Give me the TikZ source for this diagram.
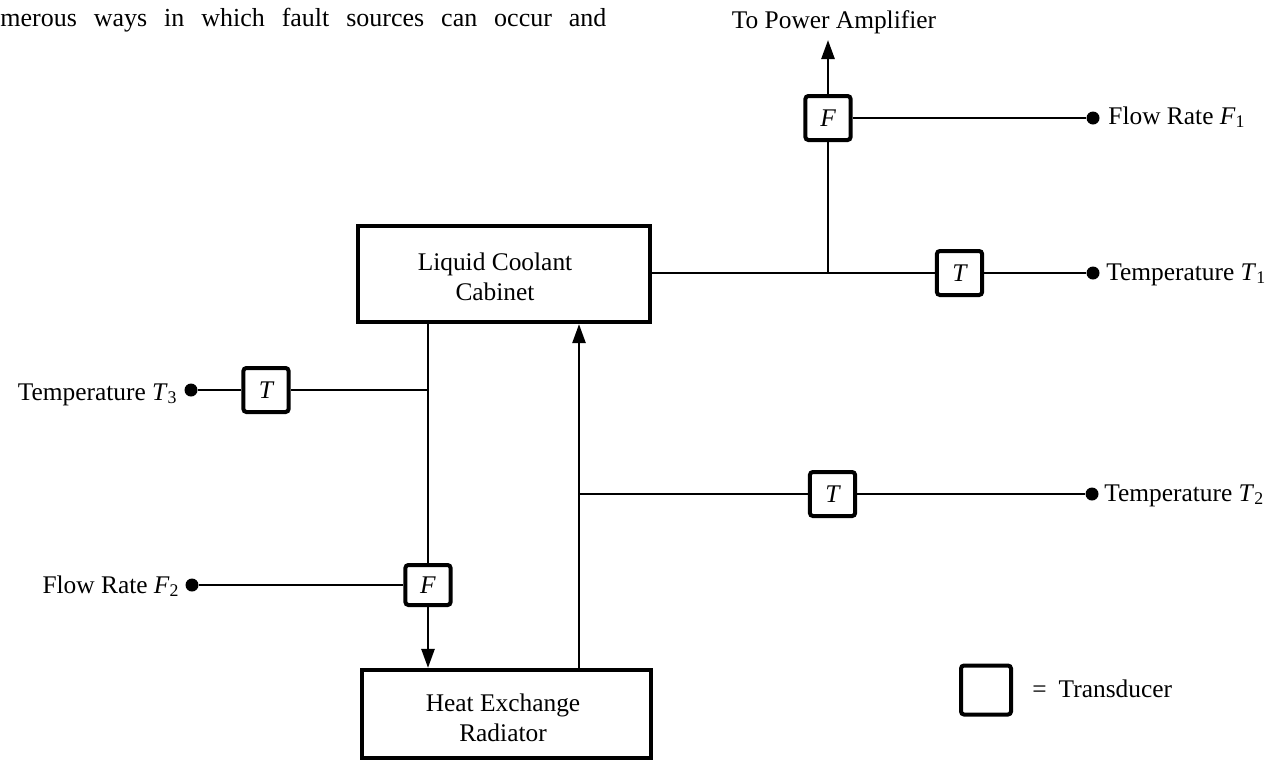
\documentclass[tikz,border=0pt]{standalone}
\usepackage{fontspec}
\setmainfont{Liberation Serif}
\usetikzlibrary{arrows.meta}
\newcommand\labfont{\fontsize{12.7}{15}\selectfont}
\newcommand\topfont{\fontsize{13}{15}\selectfont}
\begin{document}
\begin{tikzpicture}[x=0.5pt,y=-0.5pt,
  conn/.style={line width=1.3pt},
  arr/.style={line width=1.3pt,-{Triangle[length=9.5pt,width=6.5pt]}},
  bigbox/.style={draw,line width=1.9pt,inner sep=0pt},
  boxtext/.style={align=center,font=\labfont,inner sep=0pt},
  trans/.style={draw,line width=2pt,rounded corners=1.5pt,minimum width=22.6pt,minimum height=22pt,inner sep=0pt,font=\labfont\itshape},
  dot/.style={circle,fill,inner sep=0pt,minimum size=6.5pt},
  lab/.style={font=\labfont,inner sep=0pt}]
\useasboundingbox (0,0) rectangle (1278,762);
% top running text
\node[anchor=base west,inner sep=0pt,font=\topfont] (txt) at (0,26)
  {\makebox[303pt][s]{merous ways in which fault sources can occur and}};
% main blocks
\node[bigbox,minimum width=146.2pt,minimum height=48.2pt] (cab) at (504,274) {};
\node[boxtext] (cabt) at (495,277) {Liquid Coolant\\Cabinet};
\node[bigbox,minimum width=144.7pt,minimum height=44.2pt] (rad) at (506.5,714) {};
\node[boxtext] (radt) at (503,718) {Heat Exchange\\Radiator};
% transducers
\node[trans] (F1) at (828,118) {F};
\node[trans] (T1) at (959.5,273) {T};
\node[trans] (T2) at (832.5,494) {T};
\node[trans] (T3) at (266,390) {T};
\node[trans,minimum height=20pt] (F2) at (428,585) {F};
% terminal dots
\node[dot] (d1) at (1093,118) {};
\node[dot] (d2) at (1093,273) {};
\node[dot] (d3) at (1092,494) {};
\node[dot] (d4) at (191,390) {};
\node[dot] (d5) at (192,585) {};
% junctions and free ends
\coordinate (j1) at (828,273);
\coordinate (j2) at (579,494);
\coordinate (j3) at (428,390);
\coordinate (top) at (828,40);
% labels
\node[lab,anchor=base] (lpa) at (834,28) {To Power Amplifier};
\node[lab,anchor=base west] (l1) at (1108,124) {Flow Rate \textit{F}\textsubscript{1}};
\node[lab,anchor=base west] (l2) at (1106,280) {Temperature \textit{T}\textsubscript{1}};
\node[lab,anchor=base west] (l3) at (1104,501) {Temperature \textit{T}\textsubscript{2}};
\node[lab,anchor=base east] (l4) at (178,400) {Temperature \textit{T}\textsubscript{3}};
\node[lab,anchor=base east] (l5) at (180,593) {Flow Rate \textit{F}\textsubscript{2}};
% connectors
\draw[conn] (cab.east |- T1) -- (T1.west);
\draw[conn] (T1.east) -- (d2);
\draw[conn] (j1) -- (F1.south);
\draw[arr] (F1.north) -- (top);
\draw[conn] (F1.east) -- (d1);
\draw[conn] (cab.south -| F2.north) -- (F2.north);
\draw[arr] (F2.south) -- (F2.south |- rad.north);
\draw[conn] (j3) -- (T3.east);
\draw[conn] (T3.west) -- (d4);
\draw[conn] (F2.west) -- (d5);
\draw[arr] (rad.north -| j2) -- (cab.south -| j2);
\draw[conn] (j2) -- (T2.west);
\draw[conn] (T2.east) -- (d3);
% legend
\node[trans,minimum width=25pt,minimum height=24.5pt] (leg) at (986,690) {};
\node[lab,anchor=base west] (legt) at (1032,697) {=\hspace{6pt}Transducer};
\end{tikzpicture}
\end{document}
